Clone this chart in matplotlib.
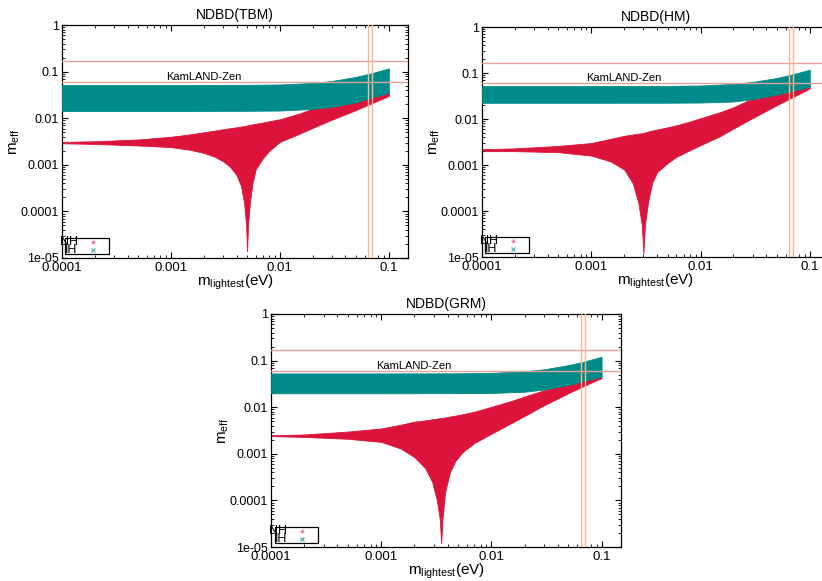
import numpy as np
import matplotlib
matplotlib.use("Agg")
from matplotlib import pyplot as plt
from matplotlib.patches import Rectangle
from matplotlib.ticker import LogLocator, NullFormatter, FixedLocator, FixedFormatter

plt.rcParams['font.family'] = ['Liberation Sans', 'DejaVu Sans']
plt.rcParams['mathtext.fontset'] = 'custom'
plt.rcParams['mathtext.rm'] = 'Liberation Sans'
plt.rcParams['mathtext.it'] = 'Liberation Sans'

RED = "#dc143c"
TEAL = "#008b8b"

titles = ["NDBD(TBM)", "NDBD(HM)", "NDBD(GRM)"]

# --- TBM ---
tbm_nh_x = [1e-4, 2e-4, 5e-4, 1e-3, 1.5e-3, 2e-3, 2.5e-3, 3e-3, 3.5e-3, 4e-3, 4.4e-3, 4.7e-3, 4.9e-3, 5.0e-3,
            5.1e-3, 5.3e-3, 5.6e-3, 6e-3, 7e-3, 8e-3, 1e-2, 1.5e-2, 2e-2, 3e-2, 5e-2, 7e-2, 0.1]
tbm_nh_hi = [0.0031, 0.0032, 0.0035, 0.0040, 0.0045, 0.0050, 0.0054, 0.0058, 0.0061, 0.0064, 0.0066, 0.0068,
             0.0069, 0.0070, 0.0071, 0.0072, 0.0074, 0.0076, 0.0081, 0.0086, 0.0095, 0.0125, 0.016, 0.020,
             0.026, 0.031, 0.037]
tbm_nh_lo = [0.0029, 0.0028, 0.0026, 0.0024, 0.0021, 0.0018, 0.0015, 0.0012, 0.0009, 0.0006, 0.00035, 0.00015,
             0.00005, 0.000014, 0.00005, 0.00015, 0.0004, 0.0008, 0.0014, 0.0020, 0.0031, 0.0046, 0.0062,
             0.0093, 0.015, 0.021, 0.030]
tbm_ih_x = [1e-4, 1e-3, 5e-3, 1e-2, 2e-2, 3e-2, 5e-2, 7e-2, 0.1]
tbm_ih_lo = [0.0143, 0.0143, 0.0144, 0.0146, 0.0158, 0.0175, 0.022, 0.028, 0.035]
tbm_ih_hi = [0.0515, 0.0515, 0.052, 0.053, 0.057, 0.063, 0.077, 0.093, 0.117]

# --- HM ---
hm_nh_x = [1e-4, 2e-4, 5e-4, 1e-3, 1.5e-3, 2e-3, 2.4e-3, 2.7e-3, 2.9e-3, 3.0e-3, 3.1e-3, 3.3e-3,
           3.6e-3, 4e-3, 5e-3, 6e-3, 8e-3, 1e-2, 1.5e-2, 2e-2, 3e-2, 5e-2, 7e-2, 0.1]
hm_nh_hi = [0.0022, 0.0023, 0.0026, 0.0030, 0.0037, 0.0043, 0.0046, 0.0048, 0.0049, 0.0050, 0.0051, 0.0053,
            0.0056, 0.0059, 0.0066, 0.0073, 0.0088, 0.0104, 0.014, 0.018, 0.028, 0.038, 0.046, 0.055]
hm_nh_lo = [0.0020, 0.0020, 0.0019, 0.0016, 0.0012, 0.0008, 0.0004, 0.00015, 0.00005, 0.000012, 0.00005,
            0.00015, 0.0004, 0.0007, 0.0011, 0.0015, 0.0021, 0.0027, 0.0042, 0.0062, 0.0105, 0.020, 0.030,
            0.046]
hm_ih_x = [1e-4, 1e-3, 5e-3, 1e-2, 2e-2, 3e-2, 5e-2, 7e-2, 0.1]
hm_ih_lo = [0.0225, 0.0225, 0.0226, 0.0228, 0.024, 0.027, 0.034, 0.041, 0.050]
hm_ih_hi = [0.052, 0.052, 0.0525, 0.0535, 0.058, 0.064, 0.078, 0.094, 0.118]

# --- GRM ---
grm_nh_x = [1e-4, 2e-4, 5e-4, 1e-3, 1.5e-3, 2e-3, 2.5e-3, 2.9e-3, 3.2e-3, 3.4e-3, 3.5e-3, 3.6e-3,
            3.8e-3, 4.2e-3, 4.7e-3, 5.5e-3, 7e-3, 1e-2, 1.5e-2, 2e-2, 3e-2, 5e-2, 7e-2, 0.1]
grm_nh_hi = [0.0025, 0.0026, 0.0030, 0.0035, 0.0042, 0.0049, 0.0052, 0.0055, 0.0057, 0.0058, 0.0058,
             0.0059, 0.0060, 0.0063, 0.0066, 0.0071, 0.0080, 0.0102, 0.0135, 0.017, 0.023, 0.032, 0.040,
             0.048]
grm_nh_lo = [0.0024, 0.0023, 0.0021, 0.0018, 0.0013, 0.00085, 0.0005, 0.00025, 0.0001, 0.00004, 0.000012,
             0.00004, 0.00015, 0.0004, 0.0007, 0.0011, 0.0017, 0.0027, 0.0045, 0.0065, 0.011, 0.020, 0.029,
             0.042]
grm_ih_x = [1e-4, 1e-3, 5e-3, 1e-2, 2e-2, 3e-2, 5e-2, 7e-2, 0.1]
grm_ih_lo = [0.0199, 0.0199, 0.020, 0.0202, 0.0215, 0.024, 0.030, 0.037, 0.045]
grm_ih_hi = [0.053, 0.053, 0.0535, 0.0545, 0.059, 0.065, 0.080, 0.096, 0.121]

# limits / reference lines
kamland_y = [0.061, 0.165]
mass_x = [0.065, 0.07]

x_ticks = [1e-4, 1e-3, 1e-2, 1e-1]
x_ticklabels = ["0.0001", "0.001", "0.01", "0.1"]
y_ticks = [1e-5, 1e-4, 1e-3, 1e-2, 1e-1, 1]
y_ticklabels = ["1e-05", "0.0001", "0.001", "0.01", "0.1", "1"]

panels = [
    (titles[0], tbm_nh_x, tbm_nh_lo, tbm_nh_hi, tbm_ih_x, tbm_ih_lo, tbm_ih_hi),
    (titles[1], hm_nh_x, hm_nh_lo, hm_nh_hi, hm_ih_x, hm_ih_lo, hm_ih_hi),
    (titles[2], grm_nh_x, grm_nh_lo, grm_nh_hi, grm_ih_x, grm_ih_lo, grm_ih_hi),
]

# axes rectangles (figure fraction)
rects = [
    [62 / 822, 1 - 258 / 581, 346 / 822, 233 / 581],
    [482 / 822, 1 - 257 / 581, 347 / 822, 230 / 581],
    [271 / 822, 1 - 547 / 581, 350 / 822, 233 / 581],
]

fig = plt.figure(figsize=(8.22, 5.81), dpi=100)

for rect, (title, nx, nlo, nhi, ix, ilo, ihi) in zip(rects, panels):
    ax = fig.add_axes(rect)
    ax.set_xscale("log")
    ax.set_yscale("log")
    ax.set_xlim(1e-4, 0.15)
    ax.set_ylim(1e-5, 1)

    ax.fill_between(nx, nlo, nhi, color=RED, lw=0.6, zorder=2)
    ax.fill_between(ix, ilo, ihi, color=TEAL, lw=0.6, zorder=3)

    for yv in kamland_y:
        ax.axhline(yv, color="#e3a39c", lw=1.0, zorder=4)
    for xv in mass_x:
        ax.axvline(xv, color="#ffb48e", lw=1.0, zorder=4)
    ax.text(9e-4, 0.077, "KamLAND-Zen", fontsize=8, va="center", ha="left", zorder=5)

    ax.xaxis.set_major_locator(FixedLocator(x_ticks))
    ax.xaxis.set_major_formatter(FixedFormatter(x_ticklabels))
    ax.yaxis.set_major_locator(FixedLocator(y_ticks))
    ax.yaxis.set_major_formatter(FixedFormatter(y_ticklabels))
    ax.xaxis.set_minor_locator(LogLocator(base=10, subs=np.arange(2, 10)))
    ax.yaxis.set_minor_locator(LogLocator(base=10, subs=np.arange(2, 10)))
    ax.xaxis.set_minor_formatter(NullFormatter())
    ax.yaxis.set_minor_formatter(NullFormatter())
    ax.tick_params(which="both", direction="in", top=True, right=True, labelsize=9)
    ax.tick_params(axis="x", labelsize=9.5)
    ax.tick_params(which="major", length=4, width=0.8)
    ax.tick_params(which="minor", length=2, width=0.6)
    ax.tick_params(axis="x", pad=3)
    ax.tick_params(axis="y", pad=2)
    for s in ax.spines.values():
        s.set_linewidth(0.9)

    ax.set_title(title, fontsize=10, pad=4)
    ax.set_xlabel(r"m$_{\rm lightest}$(eV)", fontsize=11, labelpad=-1)
    ax.set_ylabel(r"m$_{\rm eff}$", fontsize=11, labelpad=-1)

    # gnuplot style key box in lower left
    ax.add_patch(Rectangle((0.01, 0.017), 0.125, 0.069, transform=ax.transAxes,
                           fill=False, lw=0.9, ec="black", zorder=6))
    ax.text(0.045, 0.069, "NH", transform=ax.transAxes, ha="right", va="center",
            fontsize=9, zorder=7)
    ax.text(0.045, 0.034, "IH", transform=ax.transAxes, ha="right", va="center",
            fontsize=9, zorder=7)
    ax.plot([0.089], [0.069], marker="+", ms=3, color=RED, alpha=0.6,
            transform=ax.transAxes, zorder=7, clip_on=False)
    ax.plot([0.089], [0.034], marker="x", ms=3, color=TEAL, alpha=0.6,
            transform=ax.transAxes, zorder=7, clip_on=False)

fig.savefig("out.png", dpi=100)
